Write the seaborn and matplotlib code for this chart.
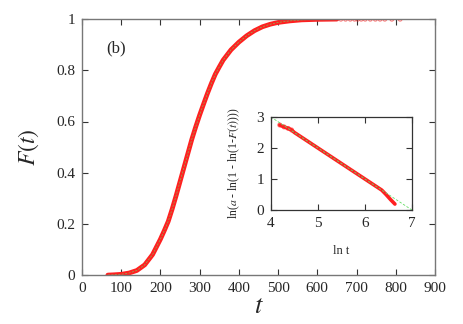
import numpy as np
import pandas as pd
import matplotlib
matplotlib.use("Agg")
import matplotlib.pyplot as plt
import seaborn as sns

# main panel: cumulative F(t)
t_main = [66, 80, 100, 120, 140, 160, 180, 200, 210, 220, 230, 240, 250, 260, 270,
          280, 290, 300, 310, 320, 330, 340, 350, 360, 380, 400, 420, 440, 460,
          480, 500, 530, 560, 600, 650]
F_main = [0.0, 0.001, 0.003, 0.008, 0.018, 0.04, 0.08, 0.14, 0.174, 0.21, 0.258,
          0.31, 0.365, 0.42, 0.475, 0.53, 0.579, 0.625, 0.668, 0.71, 0.749, 0.785,
          0.813, 0.84, 0.88, 0.91, 0.935, 0.955, 0.97, 0.98, 0.987, 0.993, 0.997,
          0.999, 1.0]
# sparse tail markers
t_tail = [660, 672, 684, 695, 703, 712, 722, 735, 748, 760, 772, 790, 811]
F_tail = [1.0] * len(t_tail)
# fit curve (green dashed)
t_fit = t_main + [700, 750, 800]
F_fit = F_main + [1.0, 1.0, 1.0]

# inset: linearised plot
lnt_in = [4.19, 4.28, 4.37, 4.44, 4.5, 4.8, 5.2, 5.6, 6.0, 6.2, 6.36, 6.45, 6.55, 6.64]
y_in = [2.74, 2.68, 2.63, 2.58, 2.5, 2.2, 1.8, 1.4, 1.0, 0.8, 0.64, 0.5, 0.33, 0.19]
lnt_fit = [4.0, 7.0]
y_fit = [3.0, 0.0]

sns.set_style("ticks")
plt.rcParams['font.family'] = ['Liberation Serif', 'DejaVu Serif']
plt.rcParams['mathtext.fontset'] = 'stix'

red = "#ff2020"
green = "#66dd66"
spine_c = "#777777"

fig = plt.figure(figsize=(4.63, 3.24), dpi=100)
ax = fig.add_axes([0.177, 0.151, 0.7625, 0.790])

main_df = pd.DataFrame({"t": t_main, "F": F_main})
sns.lineplot(data=main_df, x="t", y="F", ax=ax, color=red, lw=3.4, sort=False)
sns.scatterplot(x=t_tail, y=F_tail, ax=ax, color=red, s=8, marker="o",
                facecolor="none", edgecolor=red, linewidth=0.8, alpha=0.6)
sns.lineplot(x=t_fit, y=F_fit, ax=ax, color=green, lw=0.5, ls=(0, (3, 2)), alpha=0.8)

ax.set_xlim(0, 900)
ax.set_ylim(0, 1)
ax.set_xticks(np.arange(0, 901, 100))
ax.set_yticks([0, 0.2, 0.4, 0.6, 0.8, 1])
ax.set_yticklabels(["0", "0.2", "0.4", "0.6", "0.8", "1"])
ax.tick_params(direction="in", top=True, right=True, length=4, width=0.8,
               color="#333333", labelsize=11, pad=5)
for s in ax.spines.values():
    s.set_color(spine_c)
    s.set_linewidth(1.0)
ax.set_xlabel("$t$", fontsize=19, labelpad=1)
ax.set_ylabel("$F(t)$", fontsize=17, labelpad=11)
ax.text(0.07, 0.87, "(b)", transform=ax.transAxes, fontsize=12)

ins = fig.add_axes([0.585, 0.352, 0.3045, 0.287])
ins_df = pd.DataFrame({"lnt": lnt_in, "y": y_in})
sns.lineplot(data=ins_df, x="lnt", y="y", ax=ins, color=red, lw=2.6)
sns.scatterplot(x=lnt_in[:4], y=y_in[:4], ax=ins, s=8, marker="o",
                facecolor="none", edgecolor=red, linewidth=0.8, alpha=0.6)
sns.lineplot(x=lnt_fit, y=y_fit, ax=ins, color=green, lw=0.6, ls=(0, (3, 2)))
ins.set_xlim(4, 7)
ins.set_ylim(0, 3)
ins.set_xticks([4, 5, 6, 7])
ins.set_yticks([0, 1, 2, 3])
ins.tick_params(direction="in", top=True, right=True, length=4, width=0.8,
                color="#333333", labelsize=11, pad=5)
for s in ins.spines.values():
    s.set_color("#333333")
    s.set_linewidth(0.9)
ins.set_xlabel("ln t", fontsize=9, labelpad=11)
ins.set_ylabel("ln($a$ - ln(1 - ln(1-$F(t)$)))", fontsize=8.5, labelpad=10)

fig.savefig("out.png", dpi=100)
